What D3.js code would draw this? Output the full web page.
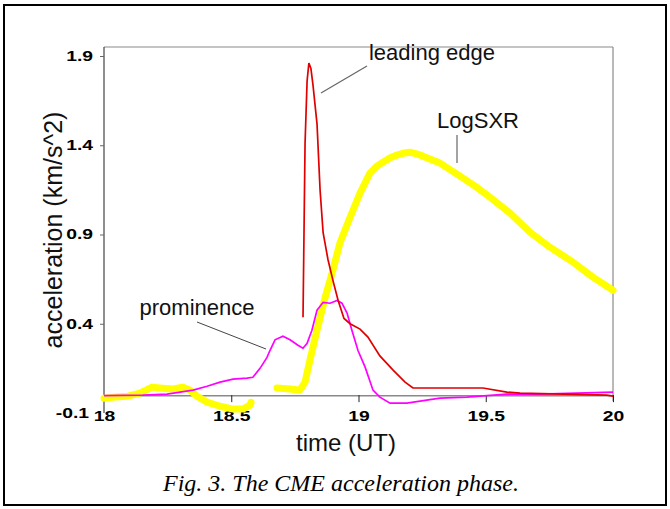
<!DOCTYPE html>
<html><head><meta charset="utf-8">
<script src="https://cdn.jsdelivr.net/npm/d3@7"></script>
<style>body{margin:0;background:#fff}svg{display:block}</style>
</head><body>
<svg id="c" width="670" height="509"></svg>
<script>
const xTicks = [18, 18.5, 19, 19.5, 20];
const yTicks = [-0.1, 0.4, 0.9, 1.4, 1.9];

const leadingT = [18.782,18.79,18.798,18.805,18.813,18.821,18.837,18.849,18.861,18.88,18.9,18.92,18.943,18.967,19.006,19.037,19.084,19.136,19.183,19.214,19.489,19.583,19.635,19.976,20.0];
const leadingV = [0.437,1.41,1.76,1.86,1.83,1.74,1.52,1.15,0.91,0.76,0.64,0.53,0.43,0.40,0.37,0.325,0.22,0.14,0.073,0.04,0.04,0.017,0.011,0.0,-0.005];

const promT = [18.0,18.153,18.248,18.299,18.35,18.405,18.456,18.507,18.562,18.585,18.613,18.64,18.652,18.672,18.703,18.731,18.762,18.782,18.798,18.817,18.837,18.861,18.888,18.916,18.935,18.955,18.974,18.998,19.026,19.057,19.084,19.124,19.19,19.32,19.426,19.583,19.713,20.0];
const promV = [-0.003,0.0,0.006,0.017,0.028,0.05,0.073,0.09,0.095,0.10,0.15,0.21,0.25,0.31,0.33,0.31,0.28,0.263,0.29,0.364,0.476,0.52,0.515,0.53,0.515,0.46,0.364,0.25,0.157,0.028,-0.011,-0.045,-0.045,-0.017,-0.011,0.006,0.006,0.017];

const sxr1T = [18.0,18.043,18.094,18.141,18.189,18.228,18.267,18.31,18.338,18.365,18.405,18.456,18.507,18.546,18.574,18.578];
const sxr1V = [-0.017,-0.011,-0.006,0.011,0.045,0.039,0.034,0.045,0.028,-0.006,-0.039,-0.062,-0.078,-0.078,-0.056,-0.04];
const sxr2T = [18.68,18.731,18.77,18.79,18.809,18.837,18.868,18.896,18.927,18.967,19.006,19.045,19.07,19.096,19.125,19.151,19.175,19.202,19.228,19.253,19.32,19.387,19.458,19.517,19.595,19.674,19.752,19.843,19.921,20.0];
const sxr2V = [0.04,0.034,0.028,0.073,0.196,0.364,0.543,0.683,0.852,0.997,1.132,1.244,1.28,1.305,1.33,1.345,1.355,1.361,1.352,1.339,1.30,1.238,1.171,1.109,1.02,0.913,0.829,0.745,0.661,0.588];

const svg = d3.select('#c');
const x = d3.scaleLinear().domain([18, 20]).range([104, 613]);
const y = d3.scaleLinear().domain([-0.1, 1.9]).range([413, 56]);
const plotTop = 47;
const sans = 'Arial, Liberation Sans, sans-serif';
const stretch = 1.38;

// outer frame
svg.append('rect').attr('x',4).attr('y',5).attr('width',662).attr('height',500)
  .attr('fill','none').attr('stroke','#000').attr('stroke-width',2);

// plot box (top & right gray)
svg.append('line').attr('x1',104).attr('x2',613).attr('y1',plotTop).attr('y2',plotTop).attr('stroke','#8a8a8a').attr('stroke-width',1.2);
svg.append('line').attr('x1',613).attr('x2',613).attr('y1',plotTop).attr('y2',y(0)+6).attr('stroke','#8a8a8a').attr('stroke-width',1.2);

// x axis at y=0
const xa = svg.append('g').attr('transform',`translate(0,${y(0)})`)
  .call(d3.axisBottom(x).tickValues(xTicks).tickSize(7).tickSizeOuter(0).tickFormat(d3.format('')));
xa.select('.domain').attr('stroke','#8a8a8a').attr('stroke-width',1.5);
xa.selectAll('.tick line').attr('stroke','#222');
xa.selectAll('.tick text').attr('y',16).attr('transform',`scale(${stretch},1)`)
  .attr('font-family',sans).attr('font-weight','bold').attr('font-size','14px').attr('fill','#000');
xa.selectAll('.tick').filter(d=>d===18).select('line').remove();

// y axis
const ya = svg.append('g').attr('transform','translate(104,0)')
  .call(d3.axisLeft(y).tickValues(yTicks).tickSize(4).tickSizeOuter(0).tickFormat(d3.format('.1f')));
ya.select('.domain').attr('d',`M0,${plotTop}V${y(-0.1)}`).attr('stroke','#444').attr('stroke-width',1.2);
ya.selectAll('.tick line').attr('stroke','#666');
ya.selectAll('.tick text').attr('x',d=>(d===-0.1?-15:-11)/stretch).attr('transform',`scale(${stretch},1)`)
  .attr('font-family',sans).attr('font-weight','bold').attr('font-size','14px').attr('fill','#000')
  .text(d=>d3.format('.1f')(d).replace('−','-'));
ya.selectAll('.tick').filter(d=>d===-0.1).select('line').remove();

const line = d3.line().x(d=>x(d[0])).y(d=>y(d[1]));
const zip = (a,b)=>a.map((v,i)=>[v,b[i]]);

svg.append('path').attr('d',line(zip(sxr1T,sxr1V))).attr('fill','none').attr('stroke','#ffff00').attr('stroke-width',7).attr('stroke-linejoin','round').attr('stroke-linecap','round');
svg.append('path').attr('d',line(zip(sxr2T,sxr2V))).attr('fill','none').attr('stroke','#ffff00').attr('stroke-width',7).attr('stroke-linejoin','round').attr('stroke-linecap','round');
svg.append('path').attr('d',line(zip(promT,promV))).attr('fill','none').attr('stroke','#ff00ff').attr('stroke-width',1.7);
svg.append('path').attr('d',line(zip(leadingT,leadingV))).attr('fill','none').attr('stroke','#e00000').attr('stroke-width',1.7);

// annotations
function label(t, cx, by){
  svg.append('text').attr('x',cx).attr('y',by).attr('text-anchor','middle')
    .attr('font-family',sans).attr('font-size','22px').attr('fill','#111').text(t);
}
label('leading edge', 432, 60);
label('LogSXR', 478, 128);
label('prominence', 197, 315);
svg.append('line').attr('x1',367).attr('y1',66).attr('x2',321).attr('y2',93).attr('stroke','#666').attr('stroke-width',1.2);
svg.append('line').attr('x1',457).attr('y1',135).attr('x2',457).attr('y2',163).attr('stroke','#666').attr('stroke-width',1.2);
svg.append('line').attr('x1',197).attr('y1',322).attr('x2',266).attr('y2',349).attr('stroke','#444').attr('stroke-width',1);

// axis titles
svg.append('text').attr('transform','translate(62,230) rotate(-90)').attr('text-anchor','middle')
  .attr('font-family',sans).attr('font-size','25px').attr('fill','#111').text('acceleration (km/s^2)');
svg.append('text').attr('x',346).attr('y',451).attr('text-anchor','middle')
  .attr('font-family',sans).attr('font-size','24px').attr('fill','#111').text('time (UT)');

// caption
svg.append('text').attr('x',341).attr('y',491).attr('text-anchor','middle')
  .attr('font-family','Liberation Serif, Times New Roman, serif').attr('font-style','italic').attr('font-size','24px').attr('fill','#000')
  .text('Fig. 3. The CME acceleration phase.');
</script>
</body></html>
